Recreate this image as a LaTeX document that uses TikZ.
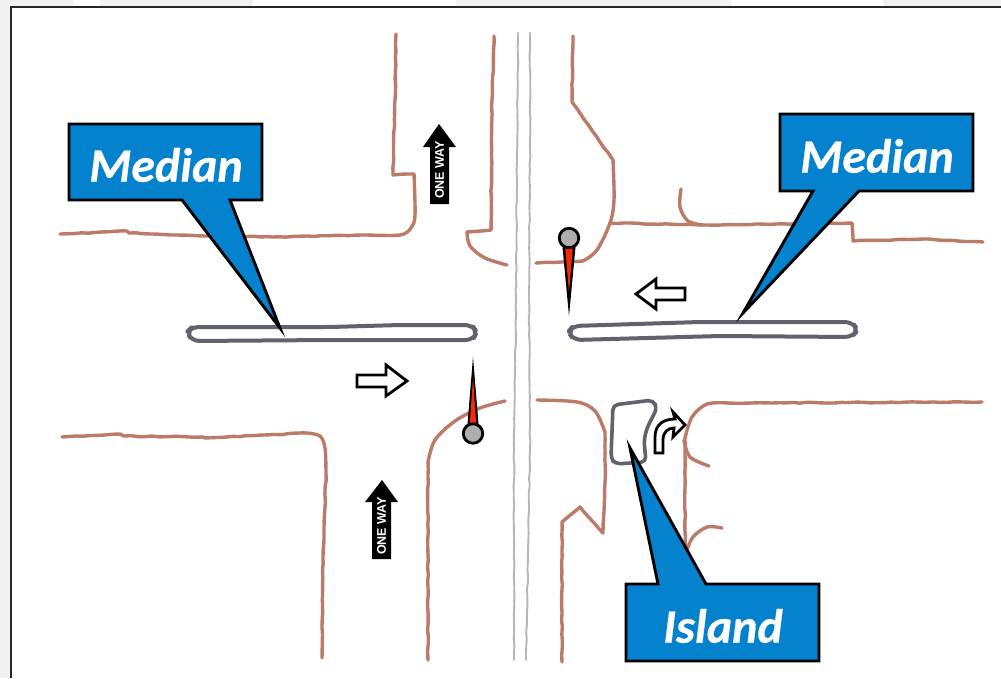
\documentclass[tikz,border=0pt]{standalone}
\usepackage{fontspec}
\usetikzlibrary{decorations.pathmorphing}
\setmainfont{Carlito}
\newfontfamily\signfont{Liberation Sans}
\definecolor{curb}{HTML}{BC7A68}
\definecolor{medianline}{HTML}{62626F}
\definecolor{calloutblue}{HTML}{0582CE}
\definecolor{centerline}{HTML}{B4B6BA}
\definecolor{pinred}{HTML}{F52A05}
\definecolor{pingray}{HTML}{AEAEAE}
\definecolor{edgegray}{HTML}{F1F1F1}
\pgfmathsetseed{7}
\tikzset{
  wobble/.style={decorate,decoration={random steps,segment length=7pt,amplitude=0.45pt}},
  curbbase/.style={draw=curb,line width=3.4pt,line join=round,line cap=round},
  curbline/.style={curbbase,wobble},
  curbcurve/.style={curbbase,smooth,tension=0.55},
  medianshape/.style={draw=medianline,line width=4pt,line join=round,fill=white},
  centerstroke/.style={draw=centerline,line width=1.9pt,line cap=round,wobble},
  callout/.style={draw=black,line width=2.9pt,fill=calloutblue,line join=miter,miter limit=20},
  callouttext/.style={text=white,font=\fontsize{48}{48}\selectfont\bfseries\itshape\addfontfeature{FakeBold=0.6},inner sep=0pt,anchor=center},
  openarrow/.style={draw=black,line width=2.8pt,fill=white,line join=miter},
  onewayarrow/.style={fill=black,draw=none},
  onewaytext/.style={text=white,font=\signfont\bfseries\fontsize{12.5}{12.5}\selectfont,rotate=90,inner sep=0pt,anchor=center},
  pinhead/.style={circle,draw=black,line width=2.8pt,fill=pingray,minimum size=19.5pt,inner sep=0pt}
}
\begin{document}
\begin{tikzpicture}[x=1pt,y=-1pt]
\useasboundingbox (0,0) rectangle (1001,678);
% page edge
\fill[white] (0,0) rectangle (1001,678);
\fill[edgegray] (0,0) rectangle (10,678);
\fill[edgegray] (0,0) rectangle (73,6);
\fill[edgegray] (100,0) rectangle (253,6);
\fill[edgegray] (456,0) rectangle (731,6);
\fill[edgegray] (883,0) rectangle (1001,6);
\draw[line width=2.2pt,black!85] (11,678) -- (11,7) -- (1001,7);
% centre lines
\draw[centerstroke] (518,33) -- (517,150) -- (516,300) -- (514,450) -- (514,660);
\draw[centerstroke] (530,33) -- (530,150) -- (529,300) -- (530,450) -- (526,660);
% curbs
\draw[curbline] (60,234) -- (127,231) -- (129,233) -- (205,236) -- (272,237) -- (368,235);
\draw[curbcurve] plot coordinates {(368,235) (400,235) (411,228) (415,215) (414,174)};
\draw[curbline] (414,174) -- (393,175) -- (395,100) -- (396,34);
\draw[curbline] (494,36) -- (492,100) -- (491,230) -- (467,232);
\draw[curbcurve] plot coordinates {(467,232) (470,246) (485,258) (507,265)};
\draw[curbline] (573,36) -- (572,102) -- (613,160);
\draw[curbcurve] plot coordinates {(613,160) (614,200) (610,223) (597,250) (583,261)};
\draw[curbline] (583,261) -- (536,263);
\draw[curbline] (610,223) -- (700,225) -- (852,223) -- (853,241) -- (923,239) -- (983,242);
\draw[curbcurve] plot coordinates {(681,189) (680,207) (688,221) (703,225)};
\draw[curbline] (62,437) -- (120,434) -- (124,436) -- (203,437) -- (205,438) -- (307,433);
\draw[curbcurve] plot coordinates {(307,433) (320,436) (325,448) (326,473)};
\draw[curbline] (326,473) -- (323,557) -- (322,658);
\draw[curbcurve] plot coordinates {(505,401) (480,408) (455,421) (435,440) (428,462)};
\draw[curbline] (428,462) -- (428,660);
\draw[curbcurve] plot coordinates {(537,400) (577,402) (595,411) (605,432)};
\draw[curbline] (605,432) -- (605,483) -- (603,533) -- (580,507) -- (562,522) -- (562,662);
\draw[curbline] (982,402) -- (728,403);
\draw[curbcurve] plot coordinates {(728,403) (707,404) (692,417) (685,438)};
\draw[curbline] (685,438) -- (685,570);
\draw[curbcurve] plot coordinates {(684,440) (690,457) (709,466)};
\draw[curbcurve] plot coordinates {(722,528) (707,527) (693,537) (687,550)};
% medians
\draw[medianshape,rounded corners=7pt] (187,332) -- (192,327) -- (330,327) -- (400,325) -- (472,325) -- (477,332) -- (473,340) -- (330,340) -- (192,341) -- cycle;
\draw[medianshape,rounded corners=7pt] (568,332) -- (573,326) -- (700,322) -- (852,322) -- (858,330) -- (852,337) -- (720,336) -- (574,340) -- cycle;
\draw[medianline,line width=3.6pt,line join=round,rounded corners=5pt] (611,458) -- (613,405) -- (653,400) -- (657,408) -- (647,428) -- (644,440) -- (646,462) -- (615,464) -- cycle;
% open arrows
\draw[openarrow] (357,375) -- (386,375) -- (386,365) -- (407,381) -- (386,396) -- (386,387) -- (357,387) -- cycle;
\draw[openarrow] (636,294) -- (656,279) -- (656,288) -- (685,288) -- (685,300) -- (656,300) -- (656,309) -- cycle;
\draw[openarrow] (655,453) -- (655,437) .. controls (655,424) and (664,419) .. (675,419) -- (673,412) -- (685,425) -- (673,437) -- (674,428) .. controls (668,428) and (663,432) .. (663,440) -- (663,453) -- cycle;
% one way signs
\fill[onewayarrow] (439,124) -- (456,147) -- (449,147) -- (449,204) -- (430,204) -- (430,147) -- (423,147) -- cycle;
\node[onewaytext] (onewayupper) at (439.5,170) {ONE WAY};
\fill[onewayarrow] (382,480) -- (398,502) -- (391,502) -- (391,559) -- (372,559) -- (372,502) -- (365,502) -- cycle;
\node[onewaytext] (onewaylower) at (381.5,526) {ONE WAY};
% pins
\fill[black] (467.5,424) -- (473,357) -- (478.5,424) -- cycle;
\fill[pinred] (469.8,423) -- (473,378) -- (476.2,423) -- cycle;
\node[pinhead] (pinleft) at (473,433.5) {};
\fill[black] (562.5,247) -- (569,316) -- (575.5,247) -- cycle;
\fill[pinred] (565.2,248) -- (569,292) -- (572.8,248) -- cycle;
\node[pinhead] (pinright) at (569,238) {};
% callouts
\draw[callout] (69,124) -- (262,124) -- (262,200) -- (230,200) -- (280,328) -- (182,200) -- (69,200) -- cycle;
\node[callouttext] (medianleft) at (166,165) {Median};
\draw[callout] (780,114) -- (973,114) -- (973,191) -- (859,191) -- (743,313) -- (813,191) -- (780,191) -- cycle;
\node[callouttext] (medianright) at (877,156) {Median};
\draw[callout] (626,584) -- (658,584) -- (630,448) -- (706,584) -- (819,584) -- (819,661) -- (626,661) -- cycle;
\node[callouttext] (island) at (723,626) {Island};
\end{tikzpicture}
\end{document}
